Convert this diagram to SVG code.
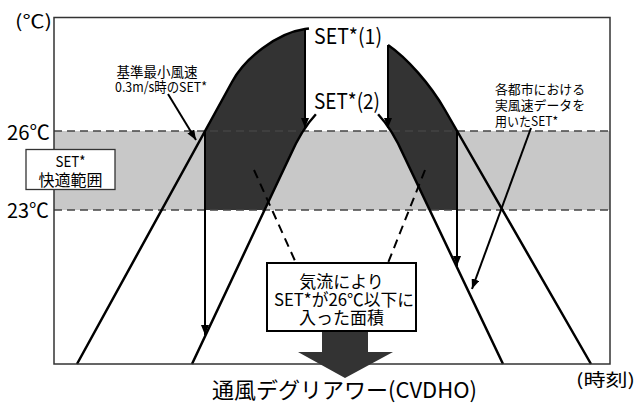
<svg xmlns="http://www.w3.org/2000/svg" width="638" height="405" viewBox="0 0 638 405">
<style>
text{font-family:"Noto Sans CJK JP","Noto Sans",sans-serif;fill:#000}
.curve{fill:none;stroke:#000;stroke-width:2.5;stroke-linejoin:round}
.dark{fill:#333}
.band{stroke:#444;stroke-width:1.4;stroke-dasharray:8,5;fill:none}
.arr{stroke:#000;stroke-width:2;fill:none;marker-end:url(#ah)}
.dash{stroke:#000;stroke-width:2;stroke-dasharray:9,6;fill:none}
.box{fill:#fff;stroke:#000;stroke-width:2}
.lbox{fill:#fff;stroke:#333;stroke-width:1.3}
</style>
<defs>
<marker id="ah" viewBox="0 0 10 8" refX="10" refY="4" markerWidth="10" markerHeight="8" markerUnits="userSpaceOnUse" orient="auto"><path d="M0,0 L10,4 L0,8 Z" fill="#000"/></marker>
</defs>
<rect width="638" height="405" fill="#fff"/>
<g id="chart">
<rect x="54" y="131" width="556" height="79" fill="#c8c8c8"/>
<path class="dark" d="M205,210 L205,131 L232,82 C245,58 277,33 305,29 L305,128.5 C299.45,136.5 294.5,145.8 290,156 L265,210 Z"/>
<path class="dark" d="M388,45 C407,58 430,84 445,110 L457,131 L457,210 L430,210 L404,156 C399.5,145.8 394.55,136.5 389.3,128.3 L388,128.3 Z"/>
<line class="band" x1="54" y1="131" x2="610" y2="131"/>
<line class="band" x1="54" y1="210" x2="610" y2="210"/>
<path class="curve" d="M77,364 L232,82 C245,58 277,33 305,29 L309,28.5"/>
<path class="curve" d="M388,45 C407,58 430,84 445,110 L591,364"/>
<path class="curve" d="M192,364 L290,156 C297.5,139 306.25,124.5 315.9,114.25"/>
<path class="curve" d="M378.1,114.25 C387.75,124.5 396.5,139 404,156 L503,364"/>
<rect x="54" y="17.5" width="556" height="346.5" fill="none" stroke="#333" stroke-width="1.5"/>
</g>
<g id="connectors">
<line class="arr" x1="305" y1="29" x2="305" y2="128"/>
<line class="arr" x1="388" y1="45" x2="388" y2="128"/>
<line class="arr" x1="205" y1="131" x2="205" y2="335"/>
<line class="arr" x1="457" y1="131" x2="457" y2="266"/>
<line class="arr" x1="168" y1="94" x2="196" y2="140"/>
<line class="arr" x1="531" y1="128" x2="472" y2="289"/>
<line class="dash" x1="254" y1="170" x2="296" y2="263"/>
<line class="dash" x1="425" y1="170" x2="388" y2="263"/>
<polygon points="322,331 368,331 368,352 393,352 345,378 298,352 322,352" fill="#333"/>
</g>
<g id="axis-labels">
<text x="15" y="28" font-size="18" textLength="37" lengthAdjust="spacingAndGlyphs">(℃)</text>
<text x="7" y="140" font-size="20" textLength="43" lengthAdjust="spacingAndGlyphs">26℃</text>
<text x="7" y="218" font-size="20" textLength="42" lengthAdjust="spacingAndGlyphs">23℃</text>
<text x="576" y="386" font-size="17" textLength="59" lengthAdjust="spacingAndGlyphs">(時刻)</text>
<text x="212" y="398" font-size="22" textLength="265" lengthAdjust="spacingAndGlyphs">通風デグリアワー(CVDHO)</text>
</g>
<g id="comfort-box">
<rect class="lbox" x="26" y="149.5" width="89" height="40"/>
<text x="70.5" y="167" font-size="15" text-anchor="middle" textLength="30" lengthAdjust="spacingAndGlyphs">SET*</text>
<text x="70.5" y="186" font-size="16" text-anchor="middle">快適範囲</text>
</g>
<g id="set1-label">
<text x="314" y="44" font-size="21" textLength="68" lengthAdjust="spacingAndGlyphs">SET*(1)</text>
</g>
<g id="set2-label">
<text x="314" y="109" font-size="21" textLength="66" lengthAdjust="spacingAndGlyphs">SET*(2)</text>
</g>
<g id="min-wind-label">
<text x="157" y="77" font-size="13.5" text-anchor="middle">基準最小風速</text>
<text x="115" y="92" font-size="13.5" textLength="92" lengthAdjust="spacingAndGlyphs">0.3m/s時のSET*</text>
</g>
<g id="city-wind-label">
<text x="495" y="94" font-size="13" textLength="90" lengthAdjust="spacingAndGlyphs">各都市における</text>
<text x="495" y="110" font-size="13" textLength="90" lengthAdjust="spacingAndGlyphs">実風速データを</text>
<text x="495" y="126" font-size="13" textLength="63" lengthAdjust="spacingAndGlyphs">用いたSET*</text>
</g>
<g id="area-box">
<rect class="box" x="267" y="263" width="149" height="68"/>
<text x="341.5" y="288" font-size="17" text-anchor="middle">気流により</text>
<text x="344" y="306" font-size="17" text-anchor="middle" textLength="140" lengthAdjust="spacingAndGlyphs">SET*が26℃以下に</text>
<text x="341.5" y="324" font-size="17" text-anchor="middle">入った面積</text>
</g>
</svg>
